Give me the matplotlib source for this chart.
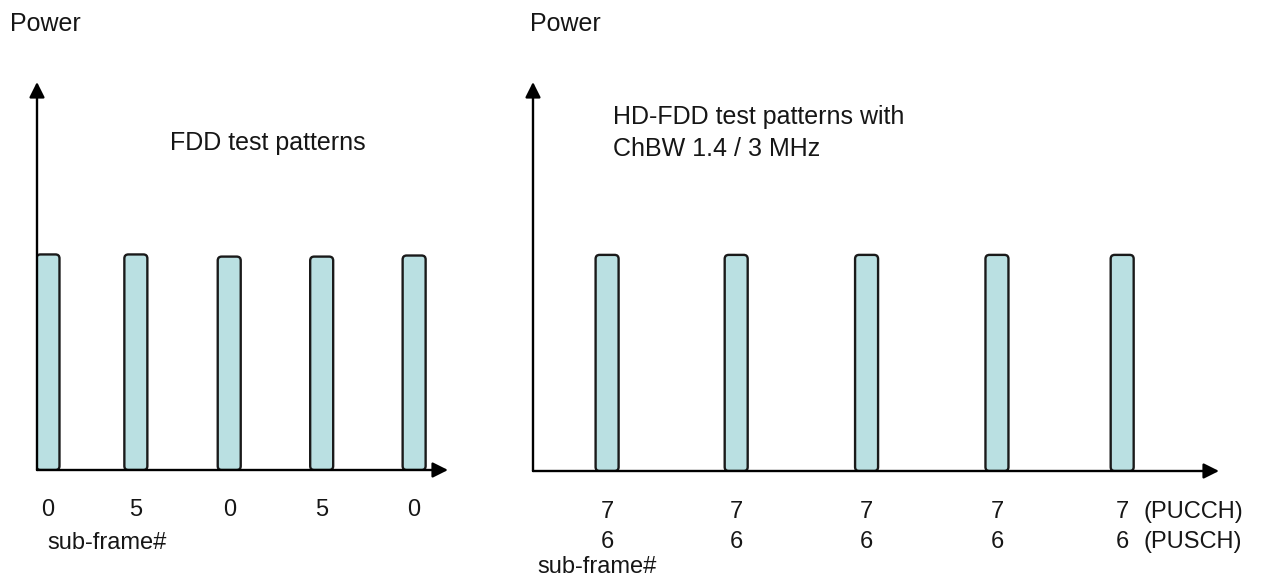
import matplotlib
matplotlib.use("Agg")
import matplotlib.pyplot as plt
from matplotlib.patches import FancyBboxPatch
import matplotlib.transforms as mtransforms

plt.rcParams['font.family'] = ['Liberation Sans', 'DejaVu Sans']

# data
fdd_slots = [0.0, 0.96, 1.98, 2.99, 4.0]
fdd_labels = ['0', '5', '0', '5', '0']
fdd_power = [1.0, 1.0, 0.99, 0.99, 0.995]
hd_slots = [0.0, 1.0, 2.01, 3.02, 3.99]
hd_pucch = ['7', '7', '7', '7', '7']
hd_pusch = ['6', '6', '6', '6', '6']
hd_power = [1.0, 1.0, 1.0, 1.0, 1.0]

W, H = 1262, 582
fig = plt.figure(figsize=(W / 100, H / 100), dpi=100)

BAR_FILL = '#bae0e2'
EDGE = '#1a1a1a'
TXT = '#161616'
YMAX = 1.8


def px_axes(x0, x1, y_top, y_bot):
    # axes placed by pixel edges of the drawn axis lines
    return fig.add_axes([x0 / W, 1 - y_bot / H, (x1 - x0) / W, (y_bot - y_top) / H])


def draw_panel(ax, slots, power, xlim, bar_w_px):
    ax.set_xlim(*xlim)
    ax.set_ylim(0, YMAX)
    ax.axis('off')
    bbox = ax.get_position()
    x_per_px = (xlim[1] - xlim[0]) / (bbox.width * W)
    y_per_px = YMAX / (bbox.height * H)
    bw = bar_w_px * x_per_px
    for x, p in zip(slots, power):
        patch = FancyBboxPatch((x - bw / 2, 0), bw, p,
                               boxstyle=f"round,pad=0,rounding_size={4 * x_per_px}",
                               mutation_aspect=y_per_px / x_per_px,
                               facecolor=BAR_FILL, edgecolor=EDGE, lw=1.7, zorder=2)
        ax.add_patch(patch)
    arrow = dict(arrowstyle='-|>', lw=1.7, color='black', mutation_scale=23,
                 shrinkA=0, shrinkB=0)
    ax.annotate('', xy=(1, 0), xytext=(0, 0), xycoords='axes fraction',
                arrowprops=arrow, annotation_clip=False, zorder=3)
    ax.annotate('', xy=(0, 1), xytext=(0, 0), xycoords='axes fraction',
                arrowprops=arrow, annotation_clip=False, zorder=3)


# left panel: FDD
ax1 = px_axes(37, 448, 82, 470)
draw_panel(ax1, fdd_slots, fdd_power, (-0.12, 4.37), 23)
tr1 = mtransforms.blended_transform_factory(ax1.transData, ax1.transAxes)
for x, lab in zip(fdd_slots, fdd_labels):
    ax1.text(x, -(510 - 470) / 388, lab, transform=tr1, ha='center', va='center',
             fontsize=17, color=TXT)

# right panel: HD-FDD
ax2 = px_axes(533, 1219, 82, 471)
draw_panel(ax2, hd_slots, hd_power, (-0.574, 4.74), 23)
tr2 = mtransforms.blended_transform_factory(ax2.transData, ax2.transAxes)
y7 = -(512 - 471) / 389
y6 = -(542 - 471) / 389
for x, a, b in zip(hd_slots, hd_pucch, hd_pusch):
    ax2.text(x, y7, a, transform=tr2, ha='center', va='center', fontsize=17, color=TXT)
    ax2.text(x, y6, b, transform=tr2, ha='center', va='center', fontsize=17, color=TXT)
ax2.annotate('(PUCCH)', xy=(hd_slots[-1], y7), xycoords=tr2,
             xytext=(15, 0), textcoords='offset points', ha='left', va='center',
             fontsize=17, color=TXT)
ax2.annotate('(PUSCH)', xy=(hd_slots[-1], y6), xycoords=tr2,
             xytext=(15, 0), textcoords='offset points', ha='left', va='center',
             fontsize=17, color=TXT)

# free text
fig.text(10 / W, 1 - 24 / H, 'Power', fontsize=18, color=TXT, va='center')
fig.text(530 / W, 1 - 24 / H, 'Power', fontsize=18, color=TXT, va='center')
fig.text(170 / W, 1 - 143 / H, 'FDD test patterns', fontsize=18, color=TXT, va='center')
fig.text(613 / W, 1 - 117 / H, 'HD-FDD test patterns with', fontsize=18, color=TXT, va='center')
fig.text(613 / W, 1 - 149 / H, 'ChBW 1.4 / 3 MHz', fontsize=18, color=TXT, va='center')
fig.text(47 / W, 1 - 543 / H, 'sub-frame#', fontsize=17, color=TXT, va='center')
fig.text(597 / W, 1 - 567 / H, 'sub-frame#', fontsize=17, color=TXT, va='center', ha='center')

fig.savefig('out.png', dpi=100, facecolor='white')
